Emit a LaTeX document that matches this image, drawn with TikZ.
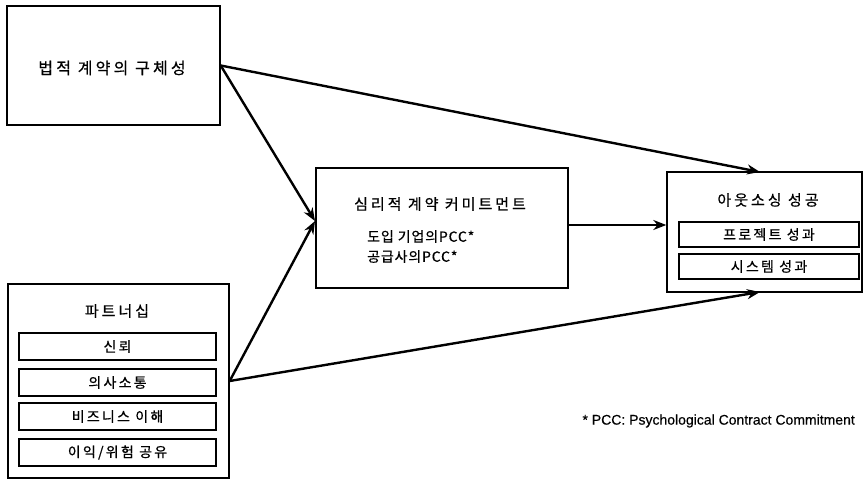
\documentclass[tikz,border=0pt]{standalone}
\usepackage{fontspec}
\setmainfont{Liberation Sans}
\newfontfamily\krA[LetterSpace=20,FakeBold=0.6]{Noto Sans CJK KR}
\newfontfamily\krB[LetterSpace=16,FakeBold=0.6]{Noto Sans CJK KR}
\newfontfamily\krC[LetterSpace=6,FakeBold=0.6]{Noto Sans CJK KR}
\newfontfamily\fnfont[FakeBold=0.4]{Liberation Sans}
\usetikzlibrary{arrows.meta}
\begin{document}
\begin{tikzpicture}[x=1pt,y=-1pt,
  box/.style={draw, line width=1.4pt, inner sep=0pt, anchor=center},
  sub/.style={draw, line width=1.1pt, inner sep=0pt, anchor=center, font=\krB\fontsize{14}{16}\selectfont},
  arr/.style={line width=2.4pt, -{Stealth[length=13pt,width=10pt]}},
  bigtxt/.style={font=\krA\fontsize{16}{19}\selectfont, inner sep=0pt},
  midtxt/.style={font=\krA\fontsize{15}{18}\selectfont, inner sep=0pt},
  smalltxt/.style={font=\krC\fontsize{14}{19}\selectfont, inner sep=0pt, align=left}]
\useasboundingbox (0,0) rectangle (866,481);
% boxes
\node[box, minimum width=213pt, minimum height=119pt] (A) at (113.5,65.5) {};
\node[bigtxt] (At) at (112,68) {법적 계약의 구체성};
\node[box, minimum width=252pt, minimum height=120pt] (M) at (442,228) {};
\node[midtxt] (Mt) at (440,204) {심리적 계약 커미트먼트};
\node[smalltxt, anchor=north west] (Ml) at (367,230) {도입 기업의PCC*\\[1pt]공급사의PCC*};
\node[box, minimum width=195pt, minimum height=120pt] (O) at (764.5,232) {};
\node[midtxt] (Ot) at (768,200) {아웃소싱 성공};
\node[sub, minimum width=180pt, minimum height=25pt] (O1) at (769,234.5) {프로젝트 성과};
\node[sub, minimum width=180pt, minimum height=25pt] (O2) at (769,266.5) {시스템 성과};
\node[box, minimum width=221pt, minimum height=194pt] (P) at (118.5,381) {};
\node[midtxt] (Pt) at (117,311) {파트너십};
\node[sub, minimum width=197pt, minimum height=27pt] (P1) at (117.5,346.5) {신뢰};
\node[sub, minimum width=197pt, minimum height=27pt] (P2) at (117.5,382.5) {의사소통};
\node[sub, minimum width=197pt, minimum height=27pt] (P3) at (117.5,416.5) {비즈니스 이해};
\node[sub, minimum width=197pt, minimum height=27pt] (P4) at (117.5,452.5) {이익/위험 공유};
% footnote
\node[anchor=east, font=\fnfont\fontsize{14}{16}\selectfont, inner sep=0pt] (fn) at (855,421) {* PCC: Psychological Contract Commitment};
% connectors
\coordinate (mIn) at (315,221);
\coordinate (oTop) at (760,172);
\coordinate (oBot) at (760,292);
\draw[arr] (A.east) -- (oTop);
\draw[arr] (A.east) -- (mIn);
\draw[arr] (P.east) -- (mIn);
\draw[arr] (P.east) -- (oBot);
\draw[arr] (M.east |- 0,225) coordinate (mOut) -- (mOut -| O.west);
\end{tikzpicture}
\end{document}
